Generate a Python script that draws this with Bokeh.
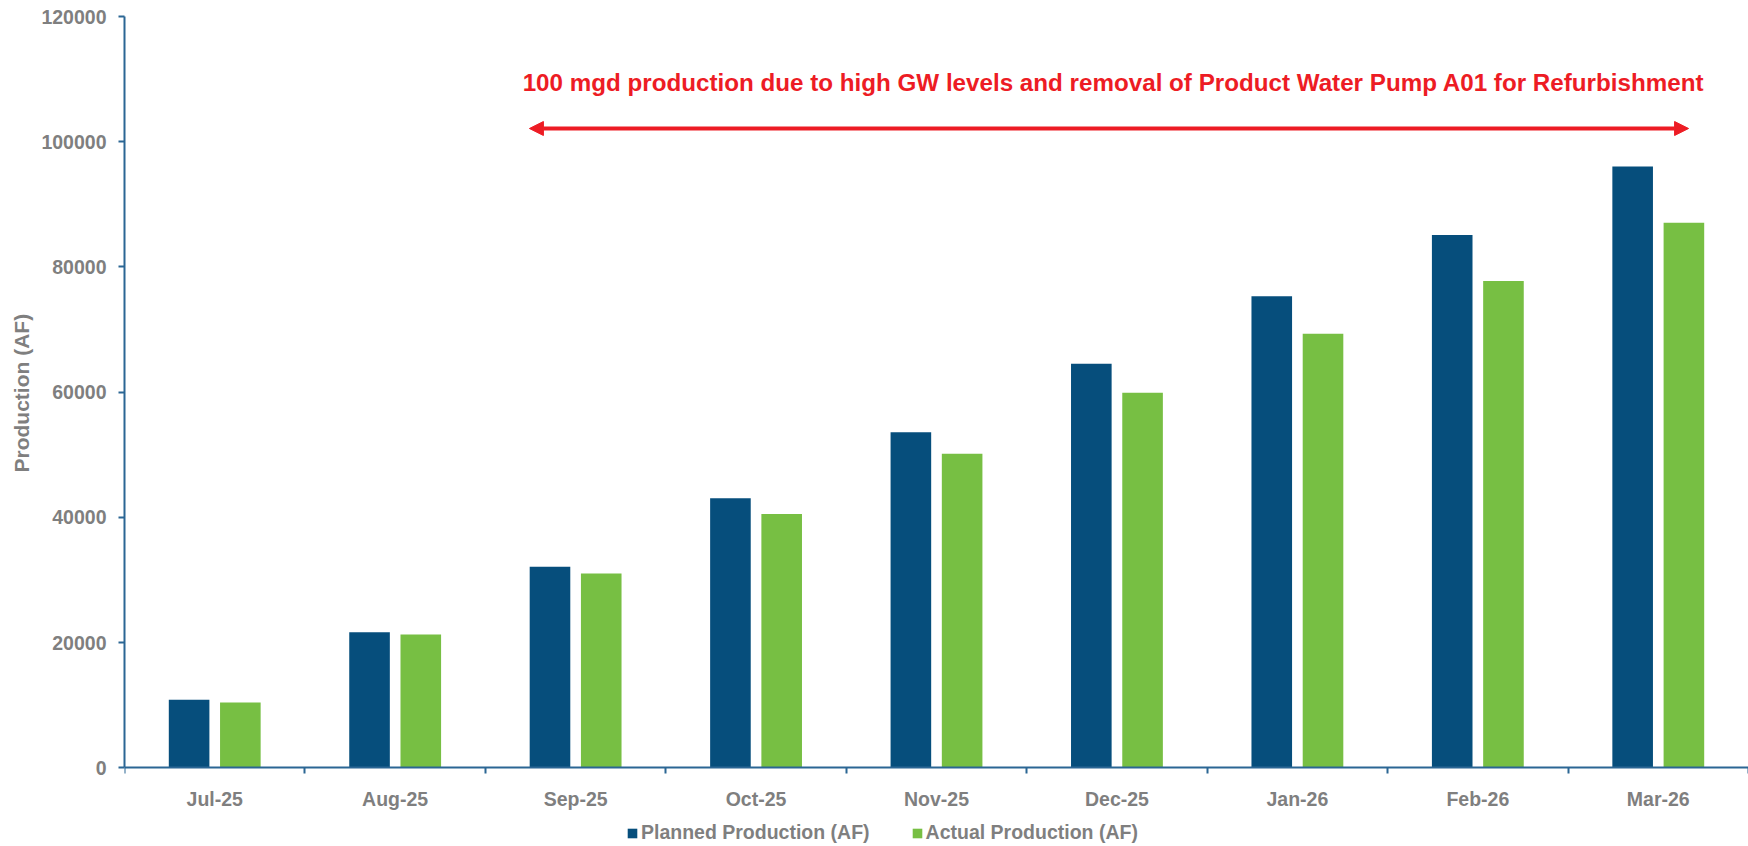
import numpy as np
from bokeh.plotting import figure
from bokeh.models import (ColumnDataSource, Range1d, FixedTicker, NumeralTickFormatter,
                          Legend, LegendItem, Label, Arrow, NormalHead, Title)
from bokeh.transform import dodge
from bokeh.embed import file_html
from bokeh.resources import INLINE

# ---- data ----
months = ["Jul-25", "Aug-25", "Sep-25", "Oct-25", "Nov-25", "Dec-25", "Jan-26", "Feb-26", "Mar-26"]
planned = [10860, 21650, 32100, 43050, 53600, 64520, 75310, 85120, 96030]
actual = [10430, 21290, 31020, 40560, 50150, 59890, 69310, 77770, 87040]
y_ticks = [0, 20000, 40000, 60000, 80000, 100000, 120000]
series_names = ["Planned Production (AF)", "Actual Production (AF)"]
y_title = "Production (AF)"
note_text = "100 mgd production due to high GW levels and removal of Product Water Pump A01 for Refurbishment"
note_span = ["Sep-25", "Mar-26"]

# ---- styles ----
BLUE = "#064E7C"
GREEN = "#77BF43"
AXIS = "#2B6694"
GRAY = "#7F7F7F"
RED = "#ED1C24"
FONT = "Liberation Sans"

Y_MAX = 120000
Y_MIN = -12565   # room under the zero line for month labels and legend

pos = np.arange(len(months)) + 0.5
src = ColumnDataSource(dict(x=pos, month=months, planned=planned, actual=actual))

p = figure(width=1748, height=846, output_backend="svg", toolbar_location=None,
           x_range=Range1d(0, len(months)), y_range=Range1d(Y_MIN, Y_MAX),
           min_border_left=124, min_border_right=0, min_border_top=16, min_border_bottom=0)
p.outline_line_color = None
p.grid.visible = False
p.background_fill_color = "white"
p.border_fill_color = "white"

r1 = p.vbar(x=dodge("x", -0.142), top="planned", width=0.225, source=src,
            fill_color=BLUE, line_color=None)
r2 = p.vbar(x=dodge("x", 0.142), top="actual", width=0.225, source=src,
            fill_color=GREEN, line_color=None)

# x axis at y = 0: labels at centers, ticks between categories
xa = p.xaxis[0]
xa.fixed_location = 0
xa.ticker = FixedTicker(ticks=list(pos), minor_ticks=list(range(len(months) + 1)))
xa.major_label_overrides = {float(v): m for v, m in zip(pos, months)}
xa.major_tick_out = 0
xa.major_tick_in = 0
xa.minor_tick_out = 6
xa.minor_tick_in = 0
xa.minor_tick_line_color = AXIS
xa.minor_tick_line_width = 2
xa.axis_line_color = AXIS
xa.axis_line_width = 2
xa.major_label_text_font = FONT
xa.major_label_text_font_style = "bold"
xa.major_label_text_font_size = "19.5px"
xa.major_label_text_color = GRAY
xa.major_label_standoff = 14

ya = p.yaxis[0]
ya.bounds = (0, Y_MAX)
ya.ticker = FixedTicker(ticks=y_ticks)
ya.formatter = NumeralTickFormatter(format="0")
ya.major_tick_out = 6
ya.major_tick_in = 0
ya.major_tick_line_color = AXIS
ya.major_tick_line_width = 2
ya.minor_tick_line_color = None
ya.axis_line_color = AXIS
ya.axis_line_width = 2
ya.major_label_text_font = FONT
ya.major_label_text_font_style = "bold"
ya.major_label_text_font_size = "19.5px"
ya.major_label_text_color = GRAY
ya.major_label_standoff = 12

# y-axis title placed beside the 0..120000 part of the axis
yt = Title(text=y_title, align="left", offset=374, vertical_align="middle", standoff=10,
           text_font=FONT, text_font_style="bold", text_font_size="21px", text_color=GRAY)
p.add_layout(yt, "left")

# annotation arrow + text
x0 = months.index(note_span[0]) + 0.244
x1 = months.index(note_span[1]) + 0.668
arrow = Arrow(x_start=x0, y_start=102110, x_end=x1, y_end=102110,
              line_color=RED, line_width=4,
              start=NormalHead(size=14, fill_color=RED, line_color=RED, line_width=1),
              end=NormalHead(size=14, fill_color=RED, line_color=RED, line_width=1))
p.add_layout(arrow)
lab = Label(x=5.481, y=109400, text=note_text, text_align="center", text_baseline="middle",
            text_font=FONT, text_font_style="bold", text_font_size="24.2px", text_color=RED)
p.add_layout(lab)

legend = Legend(items=[LegendItem(label=series_names[0], renderers=[r1]),
                       LegendItem(label=series_names[1], renderers=[r2])],
                orientation="horizontal", location=(502, 2),
                padding=0, margin=0, spacing=41, label_standoff=3,
                glyph_width=12, glyph_height=12,
                label_text_font=FONT, label_text_font_style="bold",
                label_text_font_size="19.5px", label_text_color=GRAY,
                background_fill_alpha=0, border_line_color=None)
p.add_layout(legend, "center")

open("out.html", "w").write(file_html(p, INLINE))
